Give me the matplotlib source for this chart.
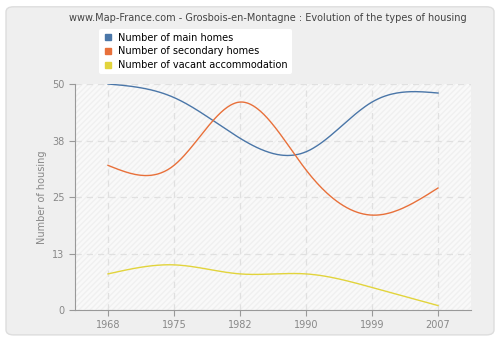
import matplotlib.pyplot as plt
import numpy as np
from matplotlib.patches import FancyBboxPatch
from matplotlib.lines import Line2D

years = ["1968", "1975", "1982", "1990", "1999", "2007"]
main_homes = [50, 47, 38, 35, 46, 48]
secondary_homes = [32, 32, 46, 31, 21, 27]
vacant = [8, 10, 8, 8, 5, 1]

y_ticks = [0, 12.5, 25, 37.5, 50]
y_tick_labels = ["0", "13", "25", "38", "50"]

colors = ["#4a76a8", "#e8703a", "#e2d43c"]
labels = ["Number of main homes", "Number of secondary homes", "Number of vacant accommodation"]


# natural cubic spline through the points, just for drawing a smooth line
def smooth(x, y, n=200):
    x = np.asarray(x, float)
    y = np.asarray(y, float)
    k = len(x)
    h = np.diff(x)
    A = np.zeros((k, k))
    b = np.zeros(k)
    A[0, 0] = 1
    A[-1, -1] = 1
    for i in range(1, k - 1):
        A[i, i - 1] = h[i - 1]
        A[i, i] = 2 * (h[i - 1] + h[i])
        A[i, i + 1] = h[i]
        b[i] = 6 * ((y[i + 1] - y[i]) / h[i] - (y[i] - y[i - 1]) / h[i - 1])
    m = np.linalg.solve(A, b)
    xs = np.linspace(x[0], x[-1], n)
    idx = np.clip(np.searchsorted(x, xs) - 1, 0, k - 2)
    x0, x1 = x[idx], x[idx + 1]
    hh = x1 - x0
    t0 = x1 - xs
    t1 = xs - x0
    ys = (m[idx] * t0 ** 3 / (6 * hh) + m[idx + 1] * t1 ** 3 / (6 * hh)
          + (y[idx] / hh - m[idx] * hh / 6) * t0
          + (y[idx + 1] / hh - m[idx + 1] * hh / 6) * t1)
    return xs, ys


fig = plt.figure(figsize=(5, 3.4), dpi=100)
fig.patch.set_facecolor("white")
bg = FancyBboxPatch((0.012, 0.015), 0.976, 0.965,
                    boxstyle="round,pad=0,rounding_size=0.015",
                    transform=fig.transFigure, facecolor="#efefef",
                    edgecolor="#dddddd", linewidth=1, zorder=-10)
fig.patches.append(bg)

ax = fig.add_axes([0.15, 0.088, 0.792, 0.665])
ax.set_facecolor("#f9f9f9")
ax.patch.set_hatch("//////")
ax.patch.set_edgecolor("#f0f0f0")
ax.patch.set_linewidth(0)

x = np.arange(len(years))
for series, c in zip([main_homes, secondary_homes, vacant], colors):
    xs, ys = smooth(x, series)
    ax.plot(xs, ys, color=c, linewidth=1, zorder=3)

ax.set_xlim(-0.5, len(years) - 0.5)
ax.set_ylim(0, 50)
ax.set_xticks(x)
ax.set_xticklabels(years)
ax.set_yticks(y_ticks)
ax.set_yticklabels(y_tick_labels)
ax.grid(True, color="#e0e0e0", linestyle=(0, (5, 4)), linewidth=0.9)
ax.set_axisbelow(True)
for s in ["top", "right"]:
    ax.spines[s].set_visible(False)
for s in ["left", "bottom"]:
    ax.spines[s].set_color("#999999")
ax.tick_params(colors="#999999", labelcolor="#888888", labelsize=7, length=4)
ax.set_ylabel("Number of housing", color="#888888", fontsize=7)

fig.text(0.535, 0.948, "www.Map-France.com - Grosbois-en-Montagne : Evolution of the types of housing",
         ha="center", va="center", fontsize=7, color="#444444")

handles = [Line2D([], [], marker="s", linestyle="none", markersize=5, color=c) for c in colors]
leg = fig.legend(handles, labels, loc="upper left", bbox_to_anchor=(0.188, 0.93),
                 fontsize=7, frameon=True, fancybox=True, handlelength=1,
                 handletextpad=0.6, borderpad=0.4, labelspacing=0.4)
leg.get_frame().set_edgecolor("none")
leg.get_frame().set_facecolor("white")
leg.get_frame().set_alpha(1)

fig.savefig("out.png", dpi=100)
